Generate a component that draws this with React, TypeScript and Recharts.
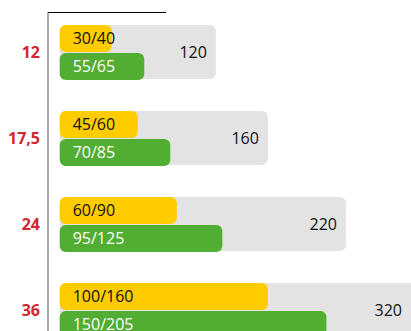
import React from 'react';
import { BarChart, Bar, XAxis, YAxis, LabelList } from 'recharts';

// Rail diameters (category labels)
const categories = ['12', '17,5', '24', '36'];
// Overall value per row (gray background bar)
const totals = [120, 160, 220, 320];
// Yellow series: lower / upper figure
const yellowLow = [30, 45, 60, 100];
const yellowHigh = [40, 60, 90, 160];
// Green series: lower / upper figure
const greenLow = [55, 70, 95, 150];
const greenHigh = [65, 85, 125, 205];

const data = categories.map((cat, i) => ({
  cat,
  total: totals[i],
  yellow: yellowHigh[i],
  yellowLabel: `${yellowLow[i]}/${yellowHigh[i]}`,
  green: greenHigh[i],
  greenLabel: `${greenLow[i]}/${greenHigh[i]}`,
}));

const WIDTH = 411;
const HEIGHT = 331;
const FONT = '"Open Sans", "Noto Sans", sans-serif';

// Total value label: sits inside the right end of the gray bar,
// kept within the visible plot when the bar runs past its edge.
const TotalLabel = (props: any) => {
  const { x, y, width, height, value } = props;
  const right = Math.min(Number(x) + Number(width), WIDTH);
  return (
    <text
      x={right - 9}
      y={Number(y) + Number(height) / 2}
      textAnchor="end"
      dominantBaseline="central"
      fontSize={16}
      fontFamily={FONT}
      fill="#111"
    >
      {value}
    </text>
  );
};

export default function App() {
  return (
    <div
      style={{
        position: 'absolute',
        left: 0,
        top: 0,
        width: WIDTH,
        height: HEIGHT,
        overflow: 'hidden',
        background: '#fff',
        fontFamily: FONT,
      }}
    >
      <BarChart
        width={WIDTH}
        height={353}
        data={data}
        layout="vertical"
        margin={{ top: 12, right: 0, bottom: 0, left: 0 }}
        barGap={1}
      >
        <XAxis type="number" hide domain={[-9, 270]} allowDataOverflow />
        <YAxis
          yAxisId="main"
          type="category"
          dataKey="cat"
          width={48}
          padding={{ top: -3, bottom: 0 }}
          axisLine={{ stroke: '#555' }}
          tickLine={false}
          tick={{ fill: '#d22630', fontWeight: 700, fontSize: 16, fontFamily: FONT }}
        />
        <YAxis
          yAxisId="bg"
          type="category"
          dataKey="cat"
          orientation="right"
          width={0}
          hide
          padding={{ top: -3, bottom: 0 }}
        />
        <Bar
          yAxisId="bg"
          dataKey="total"
          fill="#e3e3e3"
          barSize={54}
          radius={6}
          isAnimationActive={false}
        >
          <LabelList dataKey="total" content={TotalLabel} />
        </Bar>
        <Bar
          yAxisId="main"
          dataKey="yellow"
          fill="#ffcc00"
          barSize={27}
          radius={6}
          isAnimationActive={false}
        >
          <LabelList
            dataKey="yellowLabel"
            position="insideLeft"
            offset={13}
            fill="#111"
            fontSize={16}
            fontFamily={FONT}
          />
        </Bar>
        <Bar
          yAxisId="main"
          dataKey="green"
          fill="#52ae32"
          barSize={27}
          radius={6}
          isAnimationActive={false}
        >
          <LabelList
            dataKey="greenLabel"
            position="insideLeft"
            offset={13}
            fill="#fff"
            fontSize={16}
            fontFamily={FONT}
          />
        </Bar>
      </BarChart>
      <div
        style={{
          position: 'absolute',
          left: 48,
          top: 12,
          width: 118,
          height: 1,
          background: '#000',
        }}
      />
    </div>
  );
}
